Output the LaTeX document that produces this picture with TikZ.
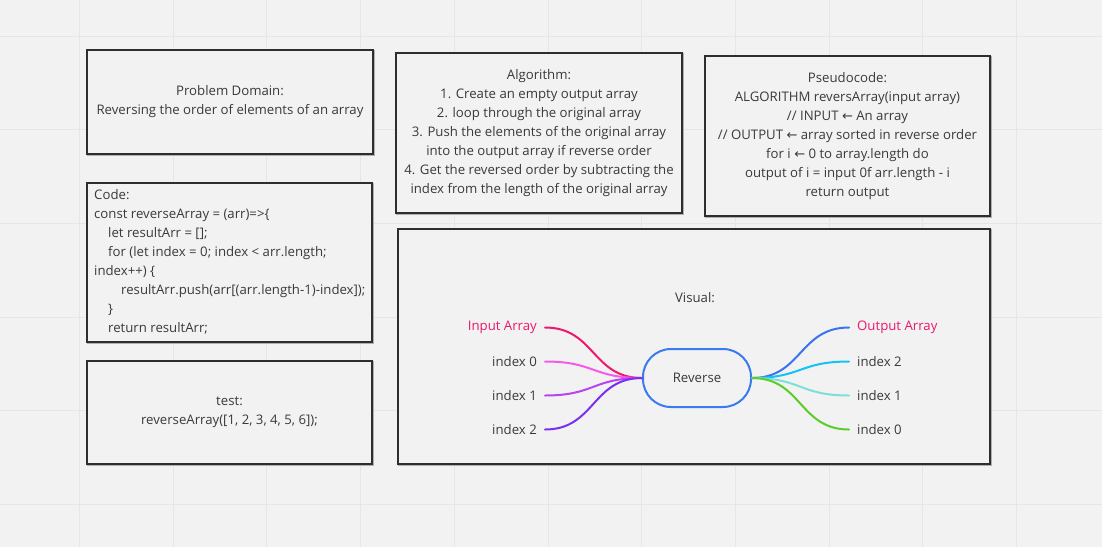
\documentclass[tikz,border=0pt]{standalone}
\usepackage{fontspec}
\setmainfont{Open Sans}
\newfontfamily\arrowfont{DejaVu Sans}
\definecolor{bg}{HTML}{F2F2F2}
\definecolor{gridc}{HTML}{E6E6E6}
\definecolor{boxc}{HTML}{2E2E2E}
\definecolor{shadowc}{HTML}{B0B0B0}
\definecolor{txt}{HTML}{3A3A3A}
\definecolor{pinkt}{HTML}{E8196E}
\definecolor{revblue}{HTML}{3A7AF2}
\definecolor{cA}{HTML}{F0186B}
\definecolor{cB}{HTML}{F25CE8}
\definecolor{cC}{HTML}{B744F0}
\definecolor{cD}{HTML}{7B2FF0}
\definecolor{cE}{HTML}{3A73F0}
\definecolor{cF}{HTML}{14C2F5}
\definecolor{cG}{HTML}{7DE0D8}
\definecolor{cH}{HTML}{5CCC2A}
\newcommand{\la}{{\arrowfont\fontsize{13}{19}\selectfont ←}}
\tikzset{
  panel/.style={draw=boxc, line width=2pt, fill=bg, inner sep=0pt, text=txt,
    font=\fontsize{13.2}{19}\selectfont, align=center,
    preaction={draw=shadowc, line width=2pt, transform canvas={xshift=1pt,yshift=-1pt}}},
  lbl/.style={text=txt, font=\fontsize{13.2}{15}\selectfont, inner ysep=2pt},
  lleft/.style={lbl, anchor=east, inner xsep=8pt},
  lright/.style={lbl, anchor=west, inner xsep=8pt},
  branch/.style={line width=2pt, line cap=round},
}
\begin{document}
\begin{tikzpicture}[x=1pt,y=-1pt]
\useasboundingbox (0,0) rectangle (1102,547);
\fill[bg] (0,0) rectangle (1102,547);
\foreach \gx in {79.5,173.2,266.9,360.6,454.3,548,641.7,735.4,829.1,922.8,1016.5}
  \draw[gridc, line width=1pt] (\gx,0) -- (\gx,547);
\foreach \gy in {36,129.7,223.4,317.1,410.8,504.5}
  \draw[gridc, line width=1pt] (0,\gy) -- (1102,\gy);

% panels
\node[panel, minimum width=286pt, minimum height=104pt] (dom) at (230,102)
  {Problem Domain:\\Reversing the order of elements of an array};
\node[panel, minimum width=286pt, minimum height=160pt] (alg) at (539,133)
  {Algorithm:\\1. Create an empty output array\\2. loop through the original array\\3. Push the elements of the original array\\into the output array if reverse order\\4. Get the reversed order by subtracting the\\index from the length of the original array};
\node[panel, minimum width=285pt, minimum height=160pt] (pse) at (847.5,136)
  {Pseudocode:\\ALGORITHM reversArray(input array)\\// INPUT \la{} An array\\// OUTPUT \la{} array sorted in reverse order\\for i \la{} 0 to array.length do\\output of i = input 0f arr.length - i\\return output};
\node[panel, minimum width=285pt, minimum height=159pt] (code) at (229.5,262.5) {};
\node[text=txt, font=\fontsize{13.2}{19}\selectfont, align=left, anchor=north west, inner sep=0pt] (codetxt) at (94,189)
  {Code:\\const reverseArray = (arr)=>\{\\\hspace*{14pt}let resultArr = [];\\\hspace*{14pt}for (let index = 0; index < arr.length;\\index++) \{\\\hspace*{27pt}resultArr.push(arr[(arr.length-1)-index]);\\\hspace*{14pt}\}\\\hspace*{14pt}return resultArr;};
\node[panel, minimum width=285pt, minimum height=103pt] (test) at (229.5,412.5)
  {test:\\reverseArray([1, 2, 3, 4, 5, 6]);};
\node[panel, minimum width=592pt, minimum height=235pt] (vis) at (694,346.5) {};
\node[lbl] (vtitle) at (695,298) {Visual:};

% mind map
\node[draw=revblue, line width=2pt, rounded corners=28pt, minimum width=108pt, minimum height=58pt,
  text=txt, font=\fontsize{13.2}{15}\selectfont, fill=bg] (rev) at (697,378) {Reverse};

\node[lleft, text=pinkt] (inA) at (545,327.5) {Input Array};
\node[lleft] (in0) at (545,361.5) {index 0};
\node[lleft] (in1) at (545,395.5) {index 1};
\node[lleft] (in2) at (545,429.5) {index 2};
\node[lright, text=pinkt] (outA) at (849,327.5) {Output Array};
\node[lright] (out2) at (849,361.5) {index 2};
\node[lright] (out1) at (849,395.5) {index 1};
\node[lright] (out0) at (849,429.5) {index 0};

\draw[branch, cA] (inA.east) .. controls +(50,0) and +(-50,0) .. (rev.west);
\draw[branch, cB] (in0.east) .. controls +(50,0) and +(-50,0) .. (rev.west);
\draw[branch, cC] (in1.east) .. controls +(50,0) and +(-50,0) .. (rev.west);
\draw[branch, cD] (in2.east) .. controls +(50,0) and +(-50,0) .. (rev.west);
\draw[branch, cE] (rev.east) .. controls +(50,0) and +(-50,0) .. (outA.west);
\draw[branch, cF] (rev.east) .. controls +(50,0) and +(-50,0) .. (out2.west);
\draw[branch, cG] (rev.east) .. controls +(50,0) and +(-50,0) .. (out1.west);
\draw[branch, cH] (rev.east) .. controls +(50,0) and +(-50,0) .. (out0.west);
\end{tikzpicture}
\end{document}
